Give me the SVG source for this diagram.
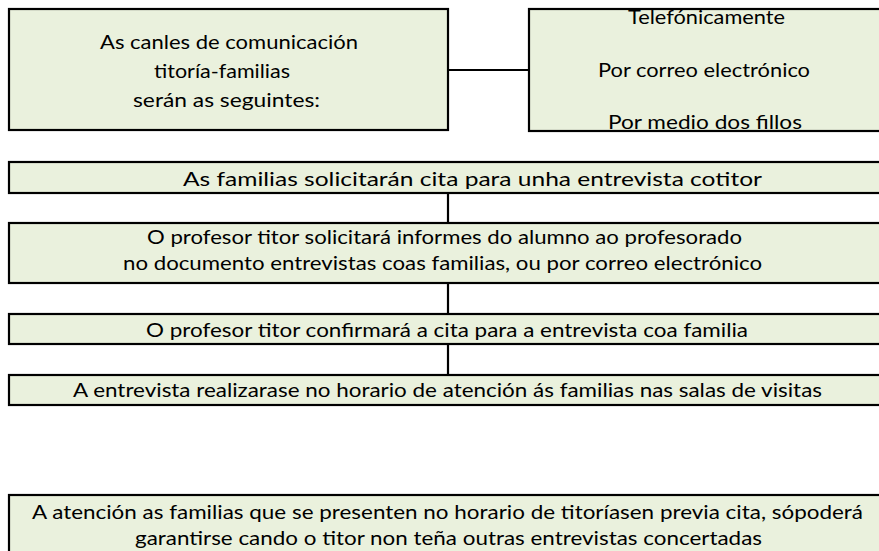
<svg xmlns="http://www.w3.org/2000/svg" width="879" height="551" viewBox="0 0 879 551">
<style>
.box{fill:#EAF1DD;stroke:#000;stroke-width:2.2}
.con{stroke:#000;stroke-width:2.2;fill:none}
text{font-family:Lato,"Open Sans","Liberation Sans",sans-serif;font-size:20px;fill:#000}
</style>
<rect width="879" height="551" fill="#fff"/>
<g id="connectors">
<line class="con" x1="448" y1="70" x2="529" y2="70"/>
<line class="con" x1="448" y1="193" x2="448" y2="223"/>
<line class="con" x1="448" y1="283" x2="448" y2="314"/>
<line class="con" x1="448" y1="344" x2="448" y2="375"/>
</g>
<g id="node-canles">
<rect class="box" x="9" y="9" width="439" height="121"/>
<text x="100" y="49" textLength="258" lengthAdjust="spacingAndGlyphs">As canles de comunicación</text>
<text x="154" y="78" textLength="136" lengthAdjust="spacingAndGlyphs">titoría-familias</text>
<text x="133" y="107" textLength="187" lengthAdjust="spacingAndGlyphs">serán as seguintes:</text>
</g>
<g id="node-medios">
<rect class="box" x="529" y="9" width="360" height="122"/>
<text x="628" y="24" textLength="157" lengthAdjust="spacingAndGlyphs">Telefónicamente</text>
<text x="598" y="77" textLength="212" lengthAdjust="spacingAndGlyphs">Por correo electrónico</text>
<text x="608" y="129" textLength="194" lengthAdjust="spacingAndGlyphs">Por medio dos fillos</text>
</g>
<g id="node-solicitar">
<rect class="box" x="9" y="162" width="880" height="31"/>
<text x="183" y="186" textLength="579" lengthAdjust="spacingAndGlyphs">As familias solicitarán cita para unha entrevista cotitor</text>
</g>
<g id="node-informes">
<rect class="box" x="9" y="223" width="880" height="60"/>
<text x="147" y="244" textLength="595" lengthAdjust="spacingAndGlyphs">O profesor titor solicitará informes do alumno ao profesorado</text>
<text x="123" y="270" textLength="639" lengthAdjust="spacingAndGlyphs">no documento entrevistas coas familias, ou por correo electrónico</text>
</g>
<g id="node-confirmar">
<rect class="box" x="9" y="314" width="880" height="30"/>
<text x="146" y="337" textLength="602" lengthAdjust="spacingAndGlyphs">O profesor titor confirmará a cita para a entrevista coa familia</text>
</g>
<g id="node-entrevista">
<rect class="box" x="9" y="375" width="880" height="30"/>
<text x="73" y="397" textLength="749" lengthAdjust="spacingAndGlyphs">A entrevista realizarase no horario de atención ás familias nas salas de visitas</text>
</g>
<g id="node-atencion">
<rect class="box" x="9" y="495" width="880" height="70"/>
<text x="32" y="519" textLength="831" lengthAdjust="spacingAndGlyphs">A atención as familias que se presenten no horario de titoríasen previa cita, sópoderá</text>
<text x="135" y="545" textLength="627" lengthAdjust="spacingAndGlyphs">garantirse cando o titor non teña outras entrevistas concertadas</text>
</g>
</svg>
